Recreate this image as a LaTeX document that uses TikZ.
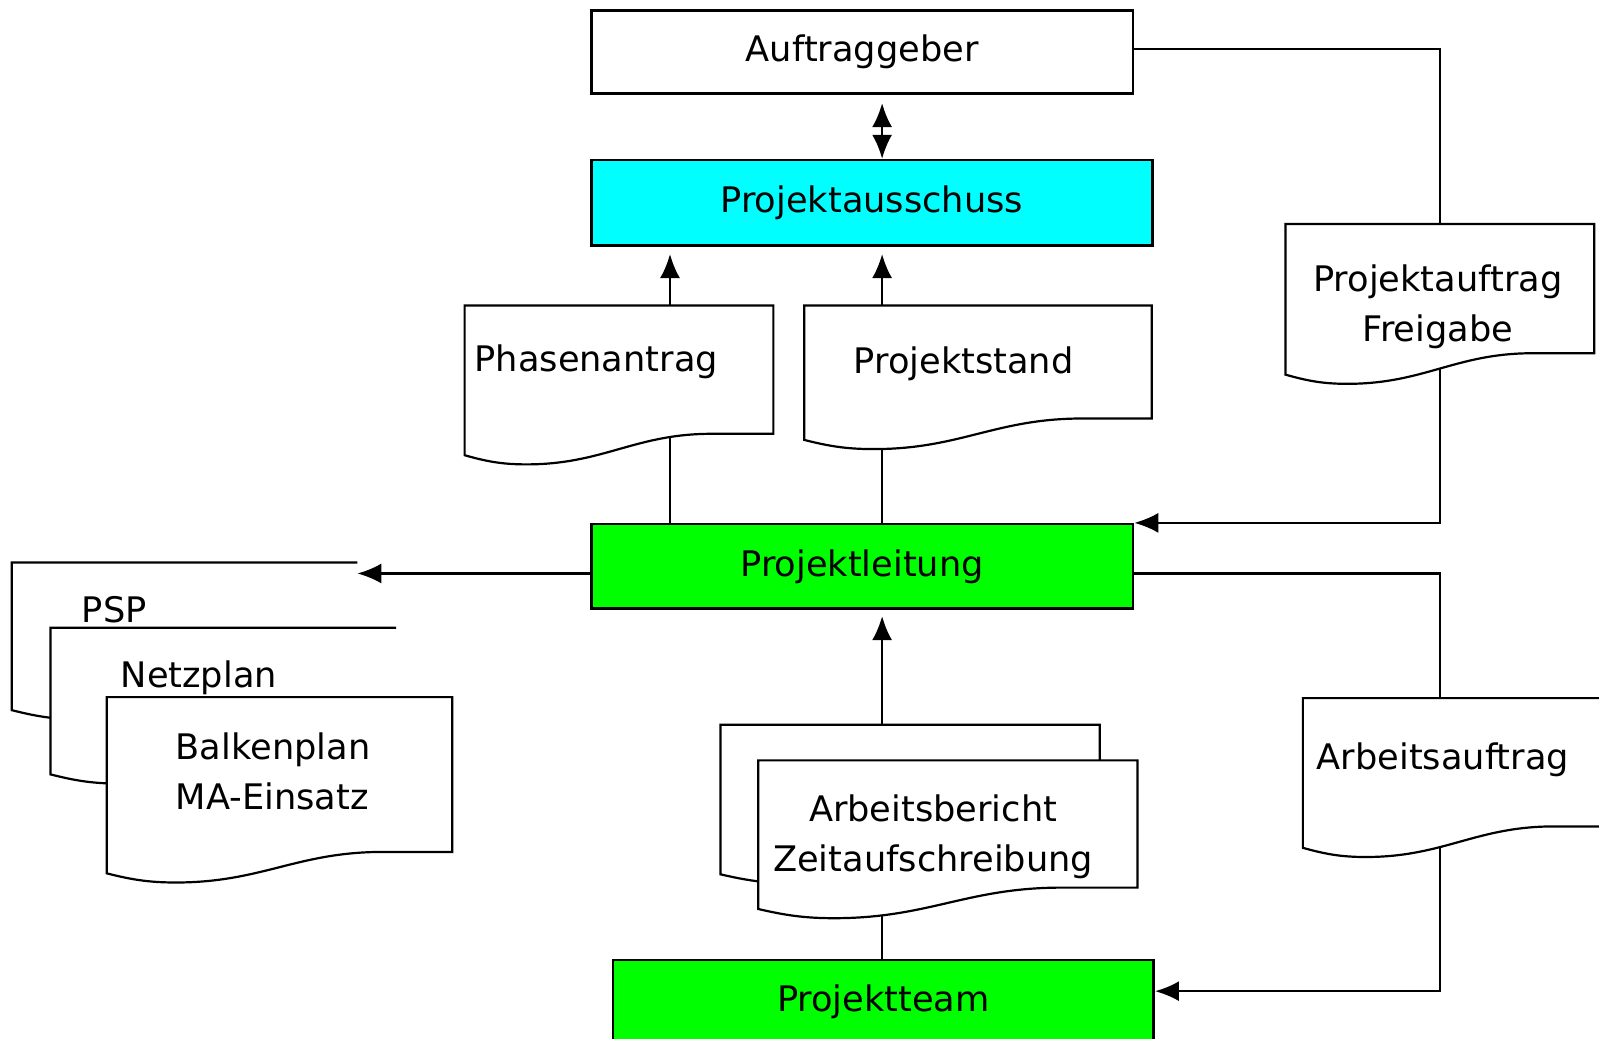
\documentclass[tikz,border=0pt]{standalone}
\usepackage{fontspec}
\setmainfont{DejaVu Sans}
\usetikzlibrary{arrows.meta,calc,fit}
\definecolor{boxcyan}{RGB}{0,255,255}
\definecolor{boxgreen}{RGB}{0,255,0}
\tikzset{
    flow-box/.style = {draw=black, fill=white, line width=1.3pt, rectangle, inner sep=0pt, font=\fontsize{17.6}{25}\selectfont},
    flow-box-cyan/.style = {flow-box, fill=boxcyan},
    flow-box-green/.style = {flow-box, fill=boxgreen},
    doc-area/.style = {rectangle, inner sep=0pt},
    doc-line/.style = {draw=black, fill=white, line width=1.1pt},
    doc-text/.style = {inner sep=0pt, align=center, font=\fontsize{17.6}{25}\selectfont},
    flow-line/.style = {draw=black, line width=1.2pt},
    flow-arrow/.style = {flow-line, -{Latex[length=12pt,width=10pt]}},
    flow-both/.style = {flow-line, {Latex[length=12pt,width=10pt]}-{Latex[length=12pt,width=10pt]}},
}
\newcommand\docshape[2][-- cycle]{%
    \path[doc-line] (#2.north east) -- (#2.north west) -- ($(#2.south west)+(0,-9)$)
        .. controls ($(#2.south west)!0.07!(#2.south east)+(0,-3)$) and ($(#2.south west)!0.12!(#2.south east)$) .. ($(#2.south west)!0.2!(#2.south east)$)
        .. controls ($(#2.south west)!0.45!(#2.south east)$) and ($(#2.south west)!0.55!(#2.south east)+(0,-30)$) .. ($(#2.south west)!0.8!(#2.south east)+(0,-30)$)
        -- ($(#2.south east)+(0,-30)$) #1;}

\begin{document}
\begin{tikzpicture}[x=0.51pt, y=-0.51pt]
\useasboundingbox (0,0) rectangle (1568,1018);
\coordinate (left) at (657,0);
\coordinate (mid) at (865,0);
\coordinate (right) at (1412,0);

\node[flow-box, minimum width=270.8pt, minimum height=41.8pt] (auftraggeber) at (845.5,51) {Auftraggeber};
\node[flow-box-cyan, minimum width=280.5pt, minimum height=42.8pt] (ausschuss) at (855,199) {Projektausschuss};
\node[flow-box-green, minimum width=270.8pt, minimum height=42.3pt] (leitung) at (845.5,555.5) {Projektleitung};
\node[flow-box-green, minimum width=270.3pt, minimum height=56pt, text depth=18pt, anchor=north west] (team) at (600,940) {Projektteam};

\node[doc-area, fit={(456,300) (758,455)}] (phasen) {};
\node[doc-area, fit={(789,300) (1129,440)}] (stand) {};
\node[doc-area, fit={(1261,220) (1563,376)}] (freigabe) {};
\node[doc-area, fit={(1278,685) (1585,840)}] (arbauftrag) {};
\node[doc-area, fit={(707,711) (1078,866)}] (bericht-back) {};
\node[doc-area, fit={(744,746) (1115,900)}] (bericht) {};
\node[doc-area, fit={(12,552) (350,705)}] (psp) {};
\node[doc-area, fit={(50,616) (388,768)}] (netz) {};
\node[doc-area, fit={(105,684) (443,865)}] (balken) {};

\draw[flow-both, shorten <=4pt] (auftraggeber.south -| mid) -- (ausschuss.north -| mid);
\draw[flow-arrow, shorten >=3.5pt] (phasen.north -| left) -- (ausschuss.south -| left);
\draw[flow-arrow, shorten >=3.5pt] (stand.north -| mid) -- (ausschuss.south -| mid);
\draw[flow-line] (leitung.north -| left) -- (phasen.center -| left);
\draw[flow-line] (leitung.north -| mid) -- (stand.center -| mid);
\draw[flow-line] ([yshift=1.5pt]auftraggeber.east) -| (freigabe.north -| right);
\draw[flow-arrow] (freigabe.center -| right) |- (leitung.north east);
\draw[flow-line] ([yshift=-3.5pt]leitung.east) -| (arbauftrag.north -| right);
\draw[flow-arrow] (arbauftrag.center -| right) |- ([yshift=-16.3pt]team.north east);
\draw[flow-arrow, shorten >=3pt] (bericht-back.north -| mid) -- (leitung.south -| mid);
\draw[flow-line] (bericht.center -| mid) -- (team.north -| mid);
\draw[flow-arrow] ([yshift=-3.5pt]leitung.west) -- ([yshift=-3.5pt]leitung.west -| psp.east);

\docshape{phasen}
\docshape{stand}
\docshape{freigabe}
\docshape{arbauftrag}
\docshape{bericht-back}
\docshape{bericht}
\docshape[]{psp}
\docshape[]{netz}
\docshape{balken}

\node[doc-text, anchor=west] (phasen-text) at (465,355) {Phasenantrag};
\node[doc-text] (stand-text) at (945,357) {Projektstand};
\node[doc-text] (freigabe-text) at (1410,301) {Projektauftrag\\Freigabe};
\node[doc-text] (arbauftrag-text) at (1415,745) {Arbeitsauftrag};
\node[doc-text] (bericht-text) at (915,821) {Arbeitsbericht\\Zeitaufschreibung};
\node[doc-text, anchor=west] (psp-text) at (80,598) {PSP};
\node[doc-text, anchor=west] (netz-text) at (118,665) {Netzplan};
\node[doc-text, anchor=west, align=left] (balken-text) at (172,756) {Balkenplan\\MA-Einsatz};
\end{tikzpicture}
\end{document}
